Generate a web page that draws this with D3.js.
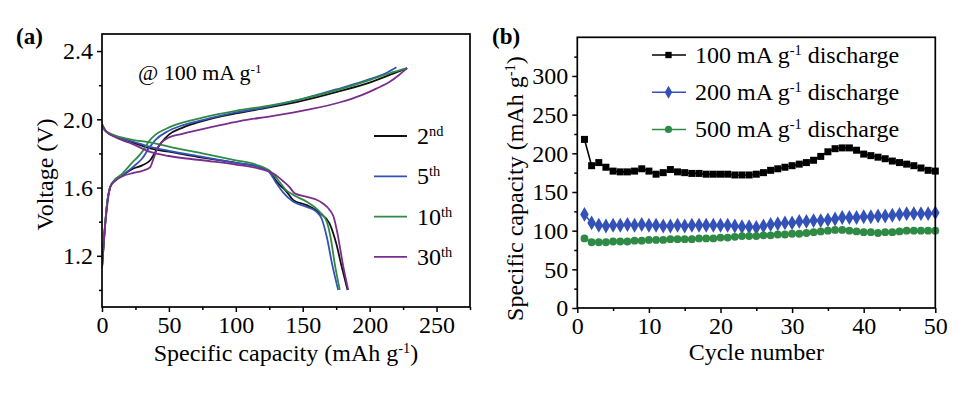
<!DOCTYPE html>
<html><head><meta charset="utf-8">
<script src="https://cdn.jsdelivr.net/npm/d3@7"></script>
<style>
body{margin:0;background:#fff}
svg{display:block}
text{font-family:"Liberation Serif","Times New Roman",serif;fill:#000}
</style>
</head><body>
<svg id="c" width="969" height="397"></svg>
<script>
// ---------- Panel (a) data : [specific capacity (mAh/g), voltage (V)] ----------
const cycleLabels = ["2", "5", "10", "30"];
const cycleSuffix = ["nd", "th", "th", "th"];
const cycleColors = ["#111111", "#3451b8", "#2f8a45", "#7b2d8e"];

const charge2nd  = [[0,1.13],[2,1.35],[4,1.52],[6,1.60],[9,1.64],[15,1.67],[23,1.71],[30,1.73],[36,1.76],[40,1.81],[44,1.86],[50,1.91],[60,1.95],[75,1.99],[100,2.035],[125,2.07],[150,2.11],[175,2.16],[200,2.215],[215,2.26],[228,2.30]];
const charge5th  = [[0,1.13],[2,1.35],[4,1.52],[6,1.60],[9,1.64],[15,1.67],[23,1.72],[30,1.77],[35,1.83],[40,1.88],[48,1.925],[60,1.965],[75,1.995],[100,2.04],[125,2.075],[150,2.12],[175,2.175],[200,2.235],[212,2.27],[220,2.305]];
const charge10th = [[0,1.13],[2,1.35],[4,1.52],[6,1.60],[9,1.64],[15,1.68],[23,1.75],[28,1.79],[31,1.82],[35,1.87],[40,1.91],[48,1.945],[60,1.98],[75,2.01],[100,2.05],[125,2.08],[150,2.12],[175,2.17],[200,2.23],[215,2.27],[228,2.30]];
const charge30th = [[0,1.13],[2,1.35],[4,1.50],[6,1.60],[10,1.64],[15,1.665],[23,1.685],[31,1.70],[36,1.72],[38.5,1.77],[42,1.84],[48,1.885],[60,1.915],[85,1.96],[103,1.99],[128,2.02],[153,2.055],[178,2.10],[195,2.145],[205,2.18],[215,2.22],[222,2.26],[228,2.30]];

const discharge2nd  = [[0,1.96],[3,1.93],[10,1.90],[23,1.865],[36,1.829],[50,1.81],[75,1.775],[100,1.745],[118,1.72],[125,1.695],[131,1.63],[138,1.575],[143,1.526],[153,1.497],[163,1.449],[170,1.39],[175,1.273],[179,1.14],[183.5,1.0]];
const discharge5th  = [[0,1.96],[3,1.93],[10,1.90],[23,1.87],[36,1.838],[50,1.815],[75,1.78],[100,1.745],[118,1.72],[125,1.69],[130,1.63],[135,1.575],[143,1.517],[153,1.487],[160,1.46],[164,1.42],[168,1.31],[172,1.15],[176.5,1.0]];
const discharge10th = [[0,1.95],[3,1.93],[10,1.905],[23,1.88],[36,1.865],[50,1.84],[75,1.80],[100,1.76],[115,1.735],[125,1.70],[132,1.64],[137,1.59],[143,1.556],[153,1.517],[163,1.455],[168,1.40],[171,1.30],[174,1.15],[177.7,1.0]];
const discharge30th = [[0,1.975],[3,1.93],[10,1.895],[23,1.855],[36,1.809],[50,1.785],[75,1.76],[100,1.735],[118,1.71],[128,1.683],[135,1.64],[140,1.604],[144,1.566],[153,1.546],[160,1.53],[165,1.507],[170,1.47],[173,1.43],[176,1.33],[180,1.15],[184,1.0]];

const capTicks = [0, 50, 100, 150, 200, 250];
const capMinorTicks = [25, 75, 125, 175, 225, 275];
const voltTicks = [1.2, 1.6, 2.0, 2.4];
const voltMinorTicks = [1.0, 1.4, 1.8, 2.2];

// ---------- Panel (b) data ----------
const cycles = [1,2,3,4,5,6,7,8,9,10,11,12,13,14,15,16,17,18,19,20,21,22,23,24,25,26,27,28,29,30,31,32,33,34,35,36,37,38,39,40,41,42,43,44,45,46,47,48,49,50];
const cap100 = [218,184,188,182,177,176,176,177,180,177,173,175,179,176,175,174,174,173,173,173,173,172,172,172,173,175,178,180,182,184,186,188,191,196,202,206,207,207,204,199,197,195,193,190,188,186,184,181,178,177];
const cap200 = [121,110,107,106,107,107,108,107,108,107,107,106,106,107,106,107,107,107,107,107,107,106,105,105,104,106,108,109,110,110,112,112,113,113,114,115,117,117,117,118,118,119,119,120,121,122,122,122,122,123];
const cap500 = [90,85,85,85,86,86,86,87,87,88,88,88,89,89,89,89,90,90,90,91,91,92,93,93,93,94,94,95,95,96,96,97,98,99,100,101,101,100,99,98,98,97,98,98,99,100,100,100,100,100];
const rateLabels = ["100", "200", "500"];
const rateColors = ["#000000", "#3451b8", "#2f8a45"];
const cycleTicks = [0, 10, 20, 30, 40, 50];
const cycleMinorTicks = [5, 15, 25, 35, 45];
const capBTicks = [0, 50, 100, 150, 200, 250, 300];
const capBMinorTicks = [25, 75, 125, 175, 225, 275, 325];

// ---------- drawing ----------
const svg = d3.select("#c");
const FS = 24;

function supText(sel, parts, size) {
  parts.forEach(([t, s]) => {
    const ts = sel.append("tspan").text(t);
    if (s) ts.attr("font-size", size * 0.6).attr("baseline-shift", "super");
  });
}

function axes(g, x, y, xt, xm, yt, ym, yfmt, W, H) {
  const ax = g.append("g").attr("transform", `translate(0,${H})`)
    .call(d3.axisBottom(x).tickValues(xt).tickSize(5).tickPadding(4).tickFormat(d3.format("d")));
  const axm = g.append("g").attr("transform", `translate(0,${H})`)
    .call(d3.axisBottom(x).tickValues(xm).tickSize(3).tickFormat(""));
  const ay = g.append("g")
    .call(d3.axisLeft(y).tickValues(yt).tickSize(5).tickPadding(4).tickFormat(yfmt));
  const aym = g.append("g")
    .call(d3.axisLeft(y).tickValues(ym).tickSize(3).tickFormat(""));
  [ax, axm, ay, aym].forEach(a => {
    a.select(".domain").remove();
    a.selectAll("line").attr("stroke", "#000").attr("stroke-width", 1.5);
    a.selectAll("text").attr("font-size", FS).attr("font-family", "Liberation Serif").attr("fill", "#000");
  });
  g.append("rect").attr("x", 0).attr("y", 0).attr("width", W).attr("height", H)
    .attr("fill", "none").attr("stroke", "#000").attr("stroke-width", 1.7);
}

// Panel (a)
{
  const L = 102, T = 34, W = 368, H = 273;
  const g = svg.append("g").attr("transform", `translate(${L},${T})`);
  const x = d3.scaleLinear().domain([0, 275]).range([0, W]);
  const y = d3.scaleLinear().domain([0.9, 2.5]).range([H, 0]);
  const line = d3.line().x(d => x(d[0])).y(d => y(d[1])).curve(d3.curveMonotoneX);
  const charges = [charge2nd, charge5th, charge10th, charge30th];
  const discharges = [discharge2nd, discharge5th, discharge10th, discharge30th];
  g.append("clipPath").attr("id", "clipA").append("rect").attr("width", W).attr("height", H);
  const pg = g.append("g").attr("clip-path", "url(#clipA)");
  [0, 1, 2, 3].forEach(i => {
    [charges[i], discharges[i]].forEach(d => {
      pg.append("path").datum(d).attr("d", line).attr("fill", "none")
        .attr("stroke", cycleColors[i]).attr("stroke-width", 1.8);
    });
  });
  axes(g, x, y, capTicks, capMinorTicks, voltTicks, voltMinorTicks, d3.format(".1f"), W, H);

  cycleLabels.forEach((lab, i) => {
    const ly = 136 + i * 40.3 - T;
    g.append("line").attr("x1", 374 - L).attr("x2", 407 - L).attr("y1", ly).attr("y2", ly)
      .attr("stroke", cycleColors[i]).attr("stroke-width", 1.8);
    const t = g.append("text").attr("x", 417 - L).attr("y", ly + 8).attr("font-size", FS);
    supText(t, [[lab, false], [cycleSuffix[i], true]], FS);
  });

  const ann = g.append("text").attr("x", 138 - L).attr("y", 80 - T).attr("font-size", 22);
  supText(ann, [["@ 100 mA g", false], ["-1", true]], 22);

  const xt = svg.append("text").attr("x", L + W / 2).attr("y", 361).attr("text-anchor", "middle").attr("font-size", FS);
  supText(xt, [["Specific capacity (mAh g", false], ["-1", true], [")", false]], FS);
  svg.append("text").attr("transform", `translate(53,${T + H / 2 + 4}) rotate(-90)`)
    .attr("text-anchor", "middle").attr("font-size", FS).text("Voltage (V)");
  svg.append("text").attr("x", 16).attr("y", 44).attr("font-size", 23).attr("font-weight", "bold").text("(a)");
}

// Panel (b)
{
  const L = 577.3, T = 37.3, W = 358, H = 270.7;
  const g = svg.append("g").attr("transform", `translate(${L},${T})`);
  const x = d3.scaleLinear().domain([0, 50]).range([0, W]);
  const y = d3.scaleLinear().domain([0, 350]).range([H, 0]);
  const series = [cap100, cap200, cap500];
  const line = d3.line().x((d, i) => x(cycles[i])).y(d => y(d));
  const shapes = [d3.symbolSquare, d3.symbolDiamond, d3.symbolCircle];
  const sizes = [49, 64, 48];
  series.forEach((s, k) => {
    g.append("path").datum(s).attr("d", line).attr("fill", "none")
      .attr("stroke", rateColors[k]).attr("stroke-width", 1.6);
    g.append("g").selectAll("path").data(s).join("path")
      .attr("transform", (d, i) => `translate(${x(cycles[i])},${y(d)})`)
      .attr("d", d3.symbol().type(shapes[k]).size(sizes[k]))
      .attr("fill", rateColors[k]);
  });
  axes(g, x, y, cycleTicks, cycleMinorTicks, capBTicks, capBMinorTicks, d3.format("d"), W, H);

  const legSizes = [40, 48, 40];
  rateLabels.forEach((lab, k) => {
    const ly = 55 + k * 37.2 - T;
    g.append("line").attr("x1", 652 - L).attr("x2", 686 - L).attr("y1", ly).attr("y2", ly)
      .attr("stroke", rateColors[k]).attr("stroke-width", 1.5);
    g.append("path").attr("transform", `translate(${668.5 - L},${ly})`)
      .attr("d", d3.symbol().type(shapes[k]).size(legSizes[k])).attr("fill", rateColors[k]);
    const t = g.append("text").attr("x", 695 - L).attr("y", ly + 8).attr("font-size", FS);
    supText(t, [[lab + " mA g", false], ["-1", true], [" discharge", false]], FS);
  });

  svg.append("text").attr("x", L + W / 2).attr("y", 360).attr("text-anchor", "middle").attr("font-size", FS).text("Cycle number");
  const yt = svg.append("text").attr("transform", `translate(523,${T + H / 2 + 16}) rotate(-90)`)
    .attr("text-anchor", "middle").attr("font-size", FS);
  supText(yt, [["Specific capacity (mAh g", false], ["-1", true], [")", false]], FS);
  svg.append("text").attr("x", 492).attr("y", 44).attr("font-size", 23).attr("font-weight", "bold").text("(b)");
}
</script>
</body></html>
